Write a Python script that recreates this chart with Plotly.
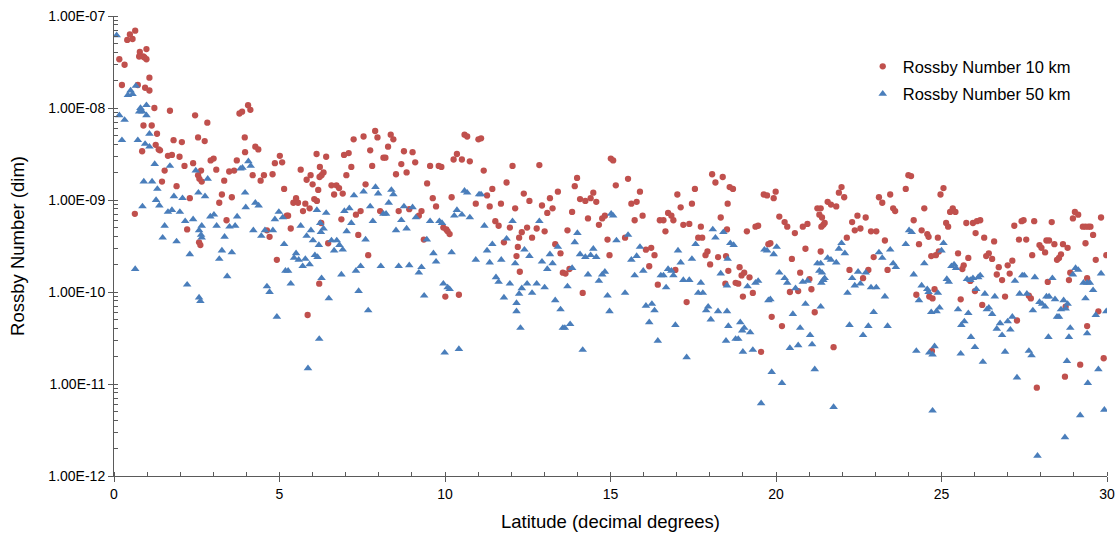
import plotly.graph_objects as go

# ---- Data (latitude in decimal degrees, Rossby number as log10) ----
lat_10km = [
    # 0-5
    0.64, 0.48, 0.56, 0.40, 0.16, 0.32, 0.78, 0.76, 0.88, 0.98, 0.98, 0.92, 0.24, 0.72, 1.07, 0.94, 1.07, 1.22, 1.69, 2.45,
    2.82, 0.89, 1.14, 1.30, 2.54, 3.95, 2.74, 1.80, 2.05, 1.26, 1.35, 1.39, 0.85, 3.79, 3.87, 4.05, 4.12, 3.96, 4.27, 4.36,
    5.01, 1.75, 1.63, 1.98, 3.01, 2.92, 3.71, 2.39, 2.13, 4.86, 1.53, 2.63, 2.54, 3.09, 3.48, 3.63, 4.19, 4.53, 4.79, 4.43,
    1.45, 2.58, 2.65, 3.33, 1.89, 3.26, 3.56, 2.29, 3.18, 0.63, 3.40, 2.21, 4.62, 4.70, 2.57, 2.61, 4.92,
    # 5-10
    5.08, 6.12, 6.41, 6.95, 7.09, 7.24, 7.54, 7.89, 7.96, 8.36, 8.44, 8.28, 7.74, 8.14, 8.20, 8.76, 9.02, 9.10, 8.68, 7.80,
    7.17, 6.22, 6.33, 6.27, 6.21, 5.94, 5.82, 5.64, 6.00, 6.17, 7.02, 6.57, 6.72, 6.80, 6.65, 6.91, 7.60, 8.52, 8.84, 9.55,
    9.81, 9.89, 9.46, 9.63, 9.73, 5.14, 5.42, 5.50, 5.56, 5.78, 5.91, 5.71, 6.05, 6.13, 5.22, 5.26, 5.34, 6.26, 6.87, 7.31,
    7.45, 8.04, 8.60, 8.92, 9.21, 9.29, 9.95, 6.47, 7.38, 9.36, 7.68, 6.20, 5.85, 10.01,
    # 10-15
    10.59, 10.67, 11.01, 11.09, 10.26, 10.36, 10.51, 10.75, 11.17, 12.04, 12.85, 11.86, 11.43, 11.27, 10.20, 10.93, 11.35,
    11.69, 12.12, 12.38, 12.55, 12.93, 13.09, 13.17, 13.25, 13.41, 13.92, 13.99, 14.08, 14.24, 14.40, 14.48, 14.57, 13.84,
    14.32, 14.65, 14.75, 14.83, 15.01,
    10.04, 10.08, 10.14, 11.52, 11.62, 11.96, 11.78, 12.32, 12.24, 12.48, 12.63, 12.77, 13.01, 12.20, 12.16, 13.33, 13.49,
    13.70, 14.91, 14.97, 12.26, 13.56, 13.64, 13.76, 14.16, 10.42,
    # 15-20
    15.08, 15.16, 15.53, 15.89, 15.63, 15.79, 15.97, 15.73, 15.44, 17.02, 17.12, 16.74, 16.84, 16.49, 16.60, 16.90, 16.66,
    17.20, 17.38, 17.46, 17.55, 17.73, 17.65, 17.77, 18.07, 18.17, 18.39, 18.60, 18.70, 18.54, 18.33, 18.52, 17.93, 17.87,
    18.01, 18.25, 18.49, 18.56, 18.47, 18.78, 18.86, 18.90, 18.96, 19.04, 19.20, 19.30, 19.00, 19.12, 19.38, 19.46, 19.63,
    19.73, 19.93, 19.99, 19.77, 19.83, 19.87, 16.07, 16.23, 16.33, 16.17, 16.43, 16.96, 17.30, 19.55,
    # 20-25
    20.18, 20.10, 20.26, 20.34, 20.57, 20.81, 20.95, 20.48, 20.89, 20.73, 20.42, 20.67, 21.01, 21.07, 21.17, 21.25, 21.35,
    21.31, 21.39, 21.37, 21.43, 21.47, 21.56, 21.66, 21.82, 21.90, 21.98, 22.06, 21.35, 21.74, 22.14, 22.30, 22.38, 22.46,
    22.55, 22.71, 22.87, 23.03, 22.95, 22.79, 22.22, 22.63, 23.11, 23.21, 23.29, 23.37, 23.45, 23.54, 23.60, 23.92, 24.00,
    24.08, 24.16, 24.32, 24.40, 24.48, 24.57, 24.61, 24.69, 24.83, 24.89, 24.97, 24.24, 24.63, 24.73, 24.79, 24.71,
    # 25-30
    25.06, 24.92, 25.26, 25.34, 25.42, 25.14, 25.20, 25.50, 25.67, 25.63, 25.81, 25.58, 25.75, 25.95, 26.07, 26.17, 26.03,
    26.29, 26.59, 25.87, 26.01, 26.23, 26.35, 26.43, 26.53, 26.73, 26.67, 26.83, 27.00, 27.06, 27.14, 26.92, 27.28, 27.20,
    27.42, 27.48, 27.80, 28.33, 27.34, 27.56, 27.74, 27.96, 28.02, 28.13, 28.17, 28.25, 28.41, 28.67, 28.81, 28.61, 28.55,
    28.49, 28.21, 27.64, 27.70, 28.75, 28.85, 28.89, 28.97, 29.03, 29.13, 29.27, 29.35, 29.44, 29.50, 29.58, 29.35, 29.40,
    29.66, 29.82, 29.98, 29.74, 29.40, 29.19, 28.73, 29.90, 27.88,
]
log10_ro_10km = [
    # 0-5
    -7.16, -7.20, -7.25, -7.26, -7.47, -7.53, -7.39, -7.44, -7.44, -7.36, -7.47, -7.45, -7.75, -7.75, -7.67, -7.78, -7.81, -8.00, -8.03, -8.08,
    -8.16, -8.19, -8.19, -8.28, -8.32, -8.32, -8.36, -8.35, -8.37, -8.40, -8.45, -8.46, -8.47, -8.06, -8.04, -7.97, -8.02, -8.48, -8.42, -8.45,
    -8.52, -8.51, -8.52, -8.53, -8.55, -8.57, -8.57, -8.60, -8.63, -8.60, -8.68, -8.68, -8.73, -8.67, -8.69, -8.68, -8.73, -8.73, -8.72, -8.79,
    -8.80, -8.77, -8.80, -8.79, -8.85, -8.94, -8.97, -8.98, -9.03, -9.15, -9.22, -9.32, -9.33, -9.40, -9.46, -9.49, -9.65,
    # 5-10
    -8.59, -8.50, -8.53, -8.51, -8.49, -8.34, -8.31, -8.25, -8.32, -8.29, -8.34, -8.42, -8.46, -8.54, -8.54, -8.47, -8.48, -8.59, -8.61, -8.63,
    -8.64, -8.64, -8.70, -8.73, -8.75, -8.73, -8.78, -8.67, -8.83, -8.89, -8.73, -8.84, -8.84, -8.87, -8.94, -8.93, -8.83, -8.72, -8.70, -8.63,
    -8.63, -8.64, -8.82, -8.98, -9.07, -8.88, -9.03, -8.98, -9.03, -9.04, -9.09, -9.12, -8.99, -9.01, -9.17, -9.17, -9.31, -9.25, -9.21, -9.16,
    -9.12, -9.12, -9.12, -9.10, -9.17, -9.12, -9.30, -9.47, -9.38, -9.43, -9.60, -9.91, -10.25, -10.05,
    # 10-15
    -8.29, -8.31, -8.34, -8.33, -8.56, -8.50, -8.56, -8.58, -8.68, -8.63, -8.62, -8.81, -8.88, -8.95, -8.97, -9.04, -9.07,
    -9.04, -9.09, -8.93, -9.01, -9.06, -9.14, -8.98, -9.09, -8.91, -8.85, -8.76, -8.99, -9.01, -8.98, -8.92, -9.02, -9.13,
    -9.20, -9.27, -9.20, -9.17, -8.55,
    -9.32, -9.34, -9.37, -9.23, -9.28, -9.30, -9.46, -9.35, -9.41, -9.30, -9.41, -9.31, -9.34, -9.51, -9.61, -9.48, -9.58,
    -9.33, -9.43, -9.60, -9.78, -9.79, -9.80, -9.75, -10.01, -10.03,
    # 15-20
    -8.57, -8.84, -8.77, -8.91, -9.04, -9.02, -9.17, -9.22, -9.41, -8.94, -9.08, -9.14, -9.17, -9.22, -9.22, -9.22, -9.34,
    -9.27, -9.26, -9.04, -8.88, -9.29, -9.41, -9.41, -8.72, -8.81, -8.75, -8.86, -8.88, -9.04, -9.19, -9.32, -9.56, -9.60,
    -9.70, -9.62, -9.61, -9.77, -9.91, -9.90, -9.91, -9.73, -9.82, -9.79, -9.84, -10.01, -10.05, -9.34, -9.29, -9.28, -8.94,
    -8.95, -8.98, -8.91, -9.48, -9.47, -10.27, -9.54, -9.52, -9.60, -9.72, -9.92, -9.76, -10.11, -10.65,
    # 20-25
    -10.37, -9.18, -9.24, -9.29, -9.36, -9.29, -9.26, -9.64, -9.53, -9.79, -10.00, -9.99, -9.86, -9.97, -10.22, -9.09, -9.09,
    -9.16, -9.19, -9.29, -9.27, -9.25, -9.02, -9.05, -9.07, -8.92, -8.86, -8.97, -9.56, -10.60, -9.41, -9.24, -9.33, -9.17,
    -9.31, -9.19, -9.34, -9.34, -9.62, -9.76, -9.76, -9.85, -8.97, -9.03, -9.44, -9.76, -8.94, -9.09, -9.12, -8.88, -8.73,
    -8.74, -9.22, -9.48, -9.33, -9.09, -9.37, -9.40, -9.61, -9.60, -9.41, -8.94, -10.03, -10.05, -10.07, -9.97, -10.64,
    # 25-30
    -8.87, -9.56, -9.13, -9.09, -9.13, -9.25, -9.29, -9.58, -9.71, -9.75, -9.63, -10.08, -9.25, -9.25, -9.23, -9.22, -9.36,
    -9.41, -9.45, -9.88, -9.99, -10.14, -9.61, -9.58, -9.64, -9.73, -9.81, -9.87, -9.71, -9.80, -9.66, -10.05, -10.31, -9.28,
    -9.23, -9.22, -9.23, -9.24, -9.43, -9.43, -9.60, -9.49, -9.52, -9.57, -9.44, -9.44, -9.48, -9.48, -9.52, -9.59, -9.63,
    -9.65, -9.89, -10.04, -10.07, -10.16, -9.87, -9.79, -9.20, -9.13, -9.16, -9.29, -9.29, -9.29, -9.29, -9.38, -9.47, -9.85,
    -9.65, -9.19, -9.60, -10.21, -10.37, -10.79, -10.92, -10.72, -11.04,
]

lat_50km = [
    # 0-5
    0.08, 0.50, 0.42, 0.56, 0.66, 0.16, 0.32, 0.80, 0.76, 0.86, 0.98, 0.98, 0.24, 0.72, 0.94, 1.07, 1.07, 1.23, 1.69, 2.47,
    2.83, 0.90, 1.15, 1.31, 1.81, 2.07, 2.55, 2.75, 3.96, 3.82, 3.88, 4.06, 4.13, 1.27, 1.37, 0.86, 1.63, 1.75, 1.99, 4.27,
    4.37, 3.98, 2.91, 3.02, 3.10, 2.39, 2.15, 2.65, 2.57, 2.63, 2.65, 3.49, 3.66, 3.72, 1.53, 1.47, 1.89, 3.34, 4.21, 4.45,
    4.56, 4.80, 4.86, 4.98, 2.29, 3.26, 3.18, 3.56, 0.64, 3.42, 2.21, 4.62, 4.70, 2.57, 2.61, 4.92,
    # 5-10
    5.10, 5.14, 5.64, 6.13, 6.41, 6.23, 5.95, 5.82, 6.01, 6.33, 6.25, 6.19, 6.07, 6.15, 5.50, 5.44, 5.58, 5.78, 5.91, 5.70,
    5.18, 5.26, 5.34, 6.49, 6.27, 6.20, 5.86, 6.57, 6.73, 6.65, 6.81, 6.91, 7.03, 7.17, 6.96, 7.11, 7.25, 7.54, 7.90, 7.98,
    8.38, 8.44, 8.30, 7.74, 7.82, 7.60, 7.45, 7.31, 6.87, 7.39, 7.68, 8.06, 8.14, 8.22, 8.76, 9.02, 9.12, 8.68, 8.84, 8.52,
    8.60, 8.92, 9.21, 9.29, 9.37, 9.45, 9.55, 9.65, 9.73, 9.83, 9.91, 9.95, 9.99,
    # 10-15
    10.08, 10.14, 10.42, 10.20, 10.28, 10.36, 10.51, 10.75, 10.59, 10.67, 11.03, 11.09, 11.19, 10.93, 11.27, 11.35, 11.43,
    11.70, 11.54, 11.62, 11.78, 11.86, 11.96, 12.04, 12.12, 12.24, 12.32, 12.40, 12.48, 12.55, 12.16, 12.16, 12.28, 12.63,
    12.77, 12.85, 12.93, 13.01, 13.09, 13.17, 13.25, 13.33, 13.41, 13.49, 13.56, 13.62, 13.70, 13.78, 13.84, 13.92, 14.00,
    14.08, 14.16, 14.24, 14.32, 14.40, 14.48, 14.57, 14.65, 14.75, 14.83, 14.91, 14.97,
    # 15-20
    15.02, 15.08, 15.18, 15.53, 15.44, 15.63, 15.79, 15.89, 15.73, 15.99, 16.07, 16.25, 16.33, 16.17, 16.43, 16.52, 16.60,
    16.68, 16.74, 16.84, 16.90, 17.04, 17.12, 17.20, 17.38, 17.46, 17.57, 17.73, 17.65, 17.79, 16.96, 17.30, 17.89, 17.95,
    18.03, 18.09, 18.17, 18.41, 18.62, 18.72, 18.54, 18.33, 18.52, 18.25, 18.52, 18.56, 18.49, 18.78, 18.86, 18.92, 18.98,
    19.04, 19.22, 19.14, 19.00, 19.30, 19.38, 19.46, 19.65, 19.73, 19.93, 19.77, 19.83, 19.87, 19.55,
    # 20-25
    20.02, 20.18, 20.10, 20.26, 20.34, 20.51, 20.59, 20.73, 20.81, 20.89, 20.95, 20.42, 20.67, 21.03, 21.09, 21.17, 21.25,
    21.35, 21.31, 21.39, 21.37, 21.43, 21.47, 21.35, 21.56, 21.66, 21.82, 21.90, 21.98, 22.08, 21.74, 22.16, 22.22, 22.30,
    22.38, 22.48, 22.55, 22.71, 22.87, 23.03, 22.63, 22.79, 22.95, 23.11, 23.21, 23.29, 23.37, 23.45, 23.54, 23.62, 23.92,
    24.02, 24.10, 24.16, 24.24, 24.32, 24.40, 24.48, 24.57, 24.63, 24.61, 24.69, 24.73, 24.79, 24.85, 24.89, 24.73,
    # 25-30
    25.06, 25.00, 24.94, 25.16, 25.22, 25.30, 25.38, 25.44, 25.50, 25.60, 25.69, 25.81, 25.89, 26.01, 25.58, 25.77, 25.87,
    25.95, 26.05, 26.11, 26.17, 26.31, 26.25, 26.37, 26.43, 26.53, 26.61, 26.67, 26.77, 26.83, 26.92, 27.00, 27.08, 27.14,
    27.22, 27.28, 27.36, 27.44, 27.50, 27.58, 27.64, 27.72, 27.76, 27.82, 27.90, 27.96, 28.04, 28.13, 28.17, 28.25, 28.23,
    28.35, 28.43, 28.49, 28.55, 28.61, 28.69, 28.75, 28.81, 28.85, 28.89, 28.79, 28.73, 28.97, 29.05, 29.13, 29.29, 29.40,
    29.48, 29.35, 29.58, 29.66, 29.40, 29.42, 29.19, 29.74, 29.82, 29.98, 29.92,
]
log10_ro_50km = [
    # 0-5
    -7.21, -7.81, -7.86, -7.85, -7.76, -8.08, -8.13, -8.00, -8.04, -8.04, -7.97, -8.08, -8.35, -8.35, -8.39, -8.28, -8.42, -8.61, -8.63, -8.68,
    -8.77, -8.80, -8.80, -8.88, -8.96, -8.98, -8.92, -8.96, -8.92, -8.66, -8.65, -8.58, -8.63, -9.00, -9.06, -9.07, -9.13, -9.11, -9.13, -9.03,
    -9.06, -9.08, -9.18, -9.16, -9.28, -9.21, -9.23, -9.28, -9.33, -9.38, -9.41, -9.29, -9.28, -9.18, -9.28, -9.41, -9.45, -9.40, -9.33, -9.39,
    -9.33, -9.33, -9.21, -9.13, -9.59, -9.55, -9.64, -9.57, -9.75, -9.83, -9.92, -9.94, -10.00, -10.06, -10.10, -10.27,
    # 5-10
    -9.19, -9.48, -9.28, -9.11, -9.14, -9.25, -9.33, -9.39, -9.44, -9.31, -9.35, -9.49, -9.60, -9.62, -9.58, -9.63, -9.65, -9.64, -9.70, -9.72,
    -9.77, -9.77, -9.91, -10.07, -9.85, -10.51, -10.83, -9.44, -9.44, -9.55, -9.49, -9.54, -9.34, -9.25, -9.12, -9.09, -8.95, -8.91, -8.86, -8.93,
    -8.89, -8.94, -9.03, -9.07, -9.23, -9.43, -9.72, -9.77, -9.81, -9.99, -10.20, -9.72, -9.15, -9.15, -9.07, -9.08, -9.19, -9.22, -9.31, -9.33,
    -9.72, -9.71, -9.79, -9.73, -10.04, -9.43, -9.23, -9.58, -9.67, -9.23, -9.25, -9.91, -10.66,
    # 10-15
    -9.95, -9.97, -10.62, -9.57, -9.17, -9.11, -9.16, -9.19, -8.90, -8.92, -8.94, -8.94, -9.28, -9.65, -9.55, -9.68, -9.48,
    -9.65, -9.84, -9.89, -10.06, -9.42, -9.91, -9.23, -9.69, -10.02, -9.96, -9.54, -9.91, -9.61, -10.12, -10.21, -10.39, -10.01,
    -9.91, -9.23, -9.67, -9.95, -9.75, -9.59, -9.69, -10.09, -9.51, -10.19, -10.39, -10.39, -9.94, -10.35, -9.74, -9.46, -9.36,
    -9.59, -10.63, -9.62, -9.81, -9.60, -9.53, -9.62, -9.88, -9.81, -9.78, -10.04, -10.21,
    # 15-20
    -9.15, -9.17, -9.44, -9.38, -10.01, -9.65, -9.61, -9.51, -9.82, -9.77, -10.15, -10.13, -10.20, -10.33, -10.53, -9.82, -9.82,
    -9.95, -9.75, -9.77, -9.82, -9.55, -9.68, -9.87, -9.87, -9.64, -9.48, -9.90, -10.01, -10.01, -10.36, -10.71, -10.20, -10.16,
    -10.30, -9.32, -9.41, -9.35, -9.47, -9.49, -9.64, -9.80, -9.93, -10.21, -10.21, -10.37, -10.53, -10.51, -10.51, -10.33, -10.42,
    -10.39, -10.44, -9.94, -10.65, -10.63, -9.90, -9.88, -9.54, -9.55, -9.59, -10.09, -10.08, -10.87, -11.21,
    # 20-25
    -9.51, -10.99, -9.79, -9.85, -9.90, -10.24, -9.96, -10.39, -9.89, -10.13, -9.88, -10.61, -10.58, -10.47, -10.57, -10.84, -9.69,
    -9.69, -9.77, -9.79, -9.90, -9.87, -9.85, -10.16, -9.63, -9.65, -9.68, -9.53, -9.47, -9.58, -11.25, -10.01, -10.36, -9.85,
    -9.93, -9.78, -9.91, -9.79, -9.95, -9.95, -10.47, -10.37, -10.22, -9.57, -9.63, -10.05, -10.37, -9.54, -9.69, -9.73, -9.48,
    -9.33, -9.35, -9.81, -10.64, -10.09, -9.93, -9.69, -9.97, -10.66, -10.00, -10.22, -10.68, -10.59, -10.21, -10.01, -11.29,
    # 25-30
    -9.47, -9.55, -10.17, -9.86, -9.89, -9.72, -9.70, -9.74, -10.19, -10.36, -10.32, -10.23, -10.49, -10.60, -10.67, -9.86, -9.87,
    -9.85, -9.97, -9.84, -9.82, -10.02, -10.76, -10.19, -10.17, -10.24, -10.05, -10.40, -10.34, -10.47, -10.65, -10.32, -10.41, -10.27,
    -9.88, -10.93, -10.02, -9.82, -9.82, -10.02, -10.64, -10.69, -10.20, -9.84, -11.78, -10.11, -10.13, -10.16, -10.05, -10.05, -10.49,
    -9.85, -10.08, -10.27, -10.27, -10.19, -10.09, -10.18, -10.13, -10.49, -10.39, -10.75, -11.58, -9.81, -9.74, -9.76, -9.90, -9.90,
    -9.90, -10.07, -9.98, -10.25, -10.45, -10.99, -11.34, -10.84, -9.80, -10.21, -11.28,
]

assert len(lat_10km) == len(log10_ro_10km), (len(lat_10km), len(log10_ro_10km))
assert len(lat_50km) == len(log10_ro_50km), (len(lat_50km), len(log10_ro_50km))

ro_10km = [10 ** v for v in log10_ro_10km]
ro_50km = [10 ** v for v in log10_ro_50km]

x_ticks = [0, 5, 10, 15, 20, 25, 30]
y_ticks = [1e-12, 1e-11, 1e-10, 1e-9, 1e-8, 1e-7]
y_ticktext = ["1.00E-12", "1.00E-11", "1.00E-10", "1.00E-09", "1.00E-08", "1.00E-07"]

RED = "#C0504D"
BLUE = "#4A7EBB"
AXIS = "#5a5a5a"
FONT = "Arial, 'Liberation Sans', Helvetica, sans-serif"

fig = go.Figure()
fig.add_trace(go.Scatter(
    x=lat_10km, y=ro_10km, mode="markers", name="Rossby Number 10 km",
    legendgroup="a",
    marker=dict(symbol="circle", size=6.3, color=RED, line=dict(width=0)),
))
fig.add_trace(go.Scatter(
    x=lat_50km, y=ro_50km, mode="markers", name="Rossby Number 50 km",
    legendgroup="b",
    marker=dict(symbol="triangle-up", size=7.5, color=BLUE, line=dict(width=0)),
))

fig.update_layout(
    width=1117, height=536,
    margin=dict(l=114, r=10, t=16, b=60, autoexpand=False),
    paper_bgcolor="white", plot_bgcolor="white",
    font=dict(family=FONT, color="black", size=14),
    showlegend=True,
    legend=dict(
        x=0.754, y=0.928, xanchor="left", yanchor="top",
        font=dict(size=16.5, family=FONT, color="black"),
        bgcolor="rgba(0,0,0,0)", tracegroupgap=3,
        itemwidth=30,
    ),
)

fig.update_xaxes(
    automargin=False,
    range=[0, 30], tickmode="array", tickvals=x_ticks,
    ticks="outside", ticklen=5, tickwidth=1, tickcolor=AXIS,
    showline=True, linecolor=AXIS, linewidth=1,
    showgrid=False, zeroline=False,
    tickfont=dict(size=14, family=FONT, color="black"),
    title=dict(text="Latitude (decimal degrees)", font=dict(size=18.5, family=FONT, color="black"), standoff=14),
    minor=dict(dtick=1, ticks="inside", ticklen=4, tickwidth=1, tickcolor=AXIS, showgrid=False),
)

fig.update_yaxes(
    automargin=False,
    type="log", range=[-12, -7], tickmode="array", tickvals=y_ticks, ticktext=y_ticktext,
    ticks="outside", ticklen=5, tickwidth=1, tickcolor=AXIS,
    showline=True, linecolor=AXIS, linewidth=1,
    showgrid=False, zeroline=False,
    tickfont=dict(size=14, family=FONT, color="black"),
    title=dict(text="Rossby Number (dim)", font=dict(size=18.5, family=FONT, color="black"), standoff=18),
    minor=dict(dtick="D1", ticks="inside", ticklen=4, tickwidth=1, tickcolor=AXIS, showgrid=False),
)

# remove the browser's default 8px page margin so the figure sits at the window origin
fig.write_html(
    "out.html",
    config={"displayModeBar": False},
    post_script="document.body.style.margin='0px';",
)
